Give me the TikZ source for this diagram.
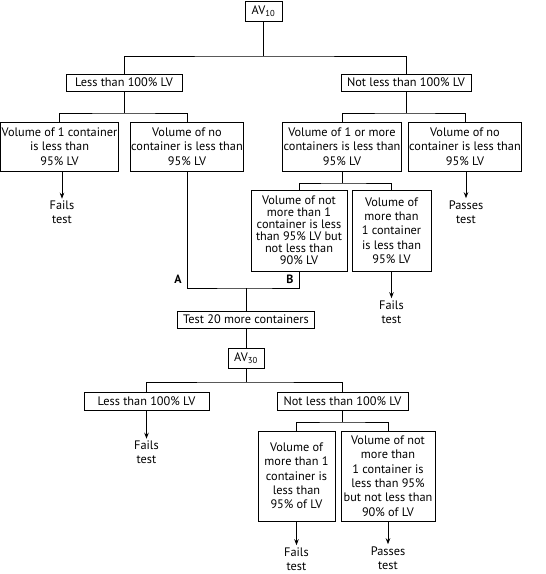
\documentclass[tikz,border=0pt]{standalone}
\usepackage{fontspec}
\setmainfont{PT Sans}
\usetikzlibrary{arrows.meta}
\begin{document}
\begin{tikzpicture}[x=1pt,y=-1pt,
  box/.style={draw, line width=0.8pt, align=center, inner sep=1pt, font=\fontsize{12.3}{14.3}\selectfont},
  lbl/.style={align=center, inner sep=2pt, font=\fontsize{12.3}{14.3}\selectfont},
  tag/.style={inner sep=0pt, font=\bfseries\fontsize{12}{13}\selectfont},
  conn/.style={line width=0.8pt},
  arr/.style={line width=0.8pt, -{Stealth[length=6pt,width=4.5pt]}}]
\useasboundingbox (0,0) rectangle (546,574);
% nodes
\node[box, minimum width=37pt, minimum height=20pt] (av10) at (263.5,11) {AV\textsubscript{10}};
\node[box, minimum width=116pt, minimum height=17pt] (less1) at (124,82.5) {Less than 100\% LV};
\node[box, minimum width=130pt, minimum height=17pt] (notless1) at (406,82.5) {Not less than 100\% LV};
\node[box, minimum width=117pt, minimum height=49pt] (v1) at (59.5,146.5) {Volume of 1 container\\is less than\\95\% LV};
\node[box, minimum width=110pt, minimum height=49pt] (vno) at (187,146.5) {Volume of no\\container is less than\\95\% LV};
\node[box, minimum width=114pt, minimum height=49pt] (v1more) at (342,146.5) {Volume of 1 or more\\containers is less than\\95\% LV};
\node[box, minimum width=112pt, minimum height=49pt] (vno2) at (465,146.5) {Volume of no\\container is less than\\95\% LV};
\node[box, minimum width=96pt, minimum height=81pt, font=\fontsize{12.3}{12}\selectfont] (vnotmore) at (299,230.5) {Volume of not\\more than 1\\container is less\\than 95\% LV but\\not less than\\90\% LV};
\node[box, minimum width=79pt, minimum height=81pt] (vmore) at (391.5,230.5) {Volume of\\more than\\1 container\\is less than\\95\% LV};
\node[box, minimum width=137pt, minimum height=17pt] (test) at (246,319.5) {Test 20 more containers};
\node[box, minimum width=36pt, minimum height=20pt] (av30) at (246,358) {AV\textsubscript{30}};
\node[box, minimum width=125pt, minimum height=18pt] (less2) at (146.5,401) {Less than 100\% LV};
\node[box, minimum width=131pt, minimum height=18pt] (notless2) at (342.5,401) {Not less than 100\% LV};
\node[box, minimum width=77pt, minimum height=90pt] (vmore2) at (296.5,476) {Volume of\\more than 1\\container is\\less than\\95\% of LV};
\node[box, minimum width=94pt, minimum height=90pt] (vnotmore2) at (388,476) {Volume of not\\more than\\1 container is\\less than 95\%\\but not less than\\90\% of LV};
% outcome labels
\node[lbl] (f1) at (62,212.5) {Fails\\test};
\node[lbl] (p1) at (466,212) {Passes\\test};
\node[lbl] (f2) at (391.5,312) {Fails\\test};
\node[lbl] (f3) at (146.5,452.5) {Fails\\test};
\node[lbl] (f4) at (296.5,559) {Fails\\test};
\node[lbl] (p2) at (388,558) {Passes\\test};
\node[tag] (ta) at (178,279) {A};
\node[tag] (tb) at (290,279) {B};
% junctions
\coordinate (j1) at (263.5,56);
\coordinate (j2) at (124,113);
\coordinate (j3) at (406,113);
\coordinate (j4) at (342,183);
\coordinate (jab) at (246,288);
\coordinate (j5) at (246,382);
\coordinate (j6) at (342.5,422);
% connectors
\draw[conn] (av10) -- (j1);
\draw[conn] (less1.north) |- (j1) -| (notless1.north);
\draw[conn] (less1) -- (j2);
\draw[conn] (v1.north) |- (j2) -| (vno.north);
\draw[conn] (notless1) -- (j3);
\draw[conn] (v1more.north) |- (j3) -| (vno2.north);
\draw[conn] (v1more) -- (j4);
\draw[conn] (vnotmore.north) |- (j4) -| (vmore.north);
\draw[conn] (vno.south) |- (jab) -| (vnotmore.south);
\draw[conn] (jab) -- (test);
\draw[conn] (test) -- (av30);
\draw[conn] (av30) -- (j5);
\draw[conn] (less2.north) |- (j5) -| (notless2.north);
\draw[conn] (notless2) -- (j6);
\draw[conn] (vmore2.north) |- (j6) -| (vnotmore2.north);
\draw[arr] (v1.south -| f1) -- (f1);
\draw[arr] (vno2.south -| p1) -- (p1);
\draw[arr] (vmore) -- (f2);
\draw[arr] (less2) -- (f3);
\draw[arr] (vmore2) -- (f4);
\draw[arr] (vnotmore2) -- (p2);
\end{tikzpicture}
\end{document}
